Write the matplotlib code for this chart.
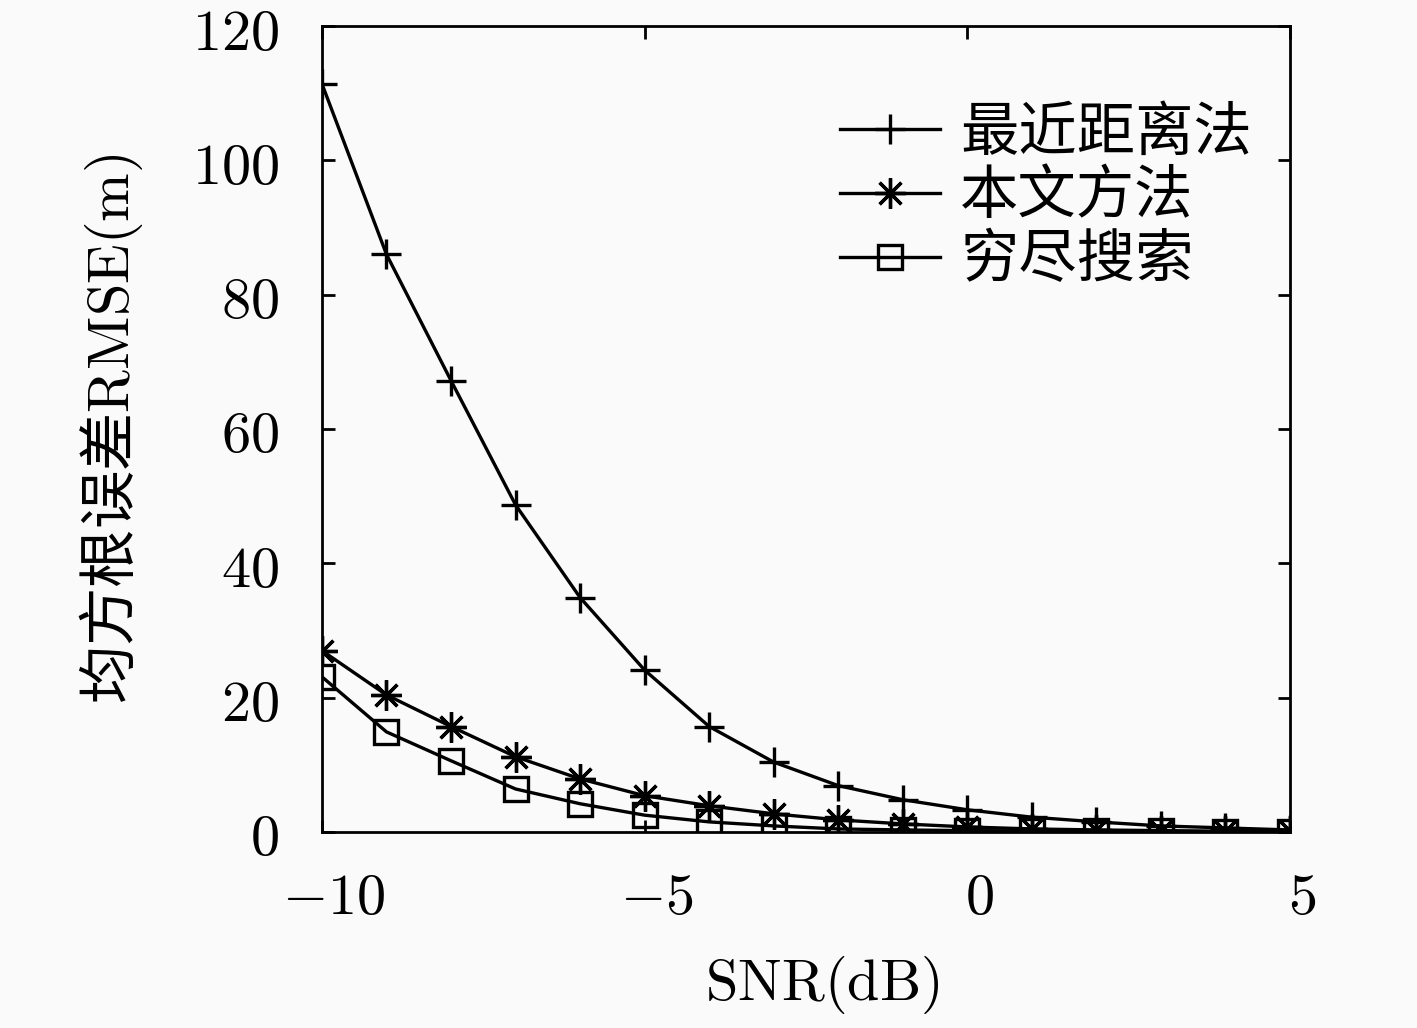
import matplotlib
matplotlib.use("Agg")
import matplotlib.pyplot as plt
from matplotlib import transforms

plt.rcParams['font.family'] = ['Noto Sans CJK SC', 'DejaVu Sans']
plt.rcParams['mathtext.fontset'] = 'cm'

# data
snr = [-10, -9, -8, -7, -6, -5, -4, -3, -2, -1, 0, 1, 2, 3, 4, 5]
rmse_nearest = [111.4, 86.0, 67.2, 48.7, 34.9, 24.1, 15.7, 10.4, 6.9, 4.8, 3.3, 2.2, 1.5, 0.9, 0.6, 0.3]
rmse_proposed = [27.0, 20.4, 15.7, 11.2, 7.9, 5.4, 3.9, 2.7, 1.8, 1.2, 0.75, 0.45, 0.3, 0.2, 0.1, 0.1]
rmse_exhaustive = [23.1, 14.9, 10.6, 6.4, 4.2, 2.5, 1.5, 0.9, 0.45, 0.3, 0.2, 0.15, 0.1, 0.1, 0.05, 0.05]

labels = ['最近距离法', '本文方法', '穷尽搜索']
xticks = [-10, -5, 0, 5]
xtick_labels = ['$-10$', '$-5$', '$0$', '$5$']
yticks = [0, 20, 40, 60, 80, 100, 120]
ytick_labels = ['$%d$' % v for v in yticks]

bg = '#fafafa'
fig = plt.figure(figsize=(14.17, 10.28), dpi=100)
fig.patch.set_facecolor(bg)
ax = fig.add_axes([0.2272, 0.1907, 0.6832, 0.784])
ax.set_facecolor(bg)

ax.plot(snr, rmse_nearest, color='k', lw=2.4, marker='+', ms=21, mew=2.4, label=labels[0])
ax.plot(snr, rmse_proposed, color='k', lw=2.4, marker=(8, 2, 0), ms=22, mew=2.4, label=labels[1])
ax.plot(snr, rmse_exhaustive, color='k', lw=2.4, marker='s', ms=17, mew=2.4,
        mfc='none', label=labels[2])

ax.set_xlim(-10, 5)
ax.set_ylim(0, 120)
ax.set_xticks(xticks, labels=xtick_labels)
ax.set_yticks(yticks, labels=ytick_labels)
ax.tick_params(direction='in', length=9, width=2, top=True, right=True, labelsize=42)
ax.tick_params(axis='x', pad=25)
ax.tick_params(axis='y', pad=31)
for s in ax.spines.values():
    s.set_linewidth(2)

# labels in the original sit a bit right of their ticks
shift = transforms.ScaledTranslation(0.12, 0, fig.dpi_scale_trans)
for t in ax.get_xticklabels():
    t.set_transform(t.get_transform() + shift)

ax.set_xlabel(r'$\mathrm{SNR(dB)}$', fontsize=42)
ax.xaxis.set_label_coords(0.517, -0.152)
ax.set_ylabel(r'均方根误差$\mathrm{RMSE(m)}$', fontsize=42)
ax.yaxis.set_label_coords(-0.183, 0.5)

ax.legend(loc='upper left', bbox_to_anchor=(0.535, 0.905), frameon=False,
          fontsize=42, handlelength=1.72, handletextpad=0.34, labelspacing=0.05,
          borderpad=0, borderaxespad=0)

fig.savefig('out.png', dpi=100, facecolor=fig.get_facecolor())
